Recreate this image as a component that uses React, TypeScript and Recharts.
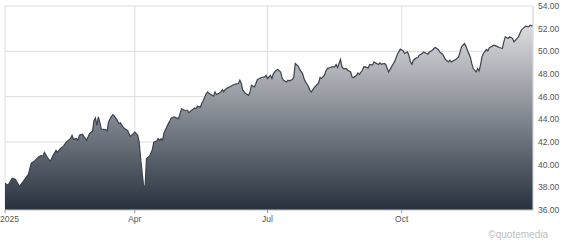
import * as React from 'react'
import { Area, AreaChart, CartesianGrid, ReferenceLine, XAxis, YAxis } from 'recharts'

// day of year 2025 (Jan 1 = 0) for each close
const days = [
  1, 3, 6, 8, 11, 14, 17, 19, 21, 24, 26, 27, 28, 30, 32, 34, 36, 37, 39, 41,
  43, 46, 47, 48, 50, 51, 52, 54, 56, 57, 59, 61, 62, 63, 64, 65, 66, 67, 70, 71,
  72, 74, 75, 76, 78, 79, 80, 82, 83, 85, 86, 87, 89, 90, 91, 92, 93, 94, 96, 97,
  98, 99, 100, 102, 103, 105, 106, 107, 108, 109, 110, 111, 113, 114, 115, 117, 118, 120, 121, 122,
  124, 126, 127, 129, 131, 132, 133, 135, 136, 137, 139, 140, 141, 143, 144, 145, 146, 148, 149, 150,
  151, 152, 154, 155, 157, 158, 159, 161, 162, 163, 164, 166, 168, 169, 170, 172, 173, 174, 176, 177,
  179, 180, 181, 183, 184, 185, 187, 188, 190, 191, 192, 194, 195, 196, 198, 199, 200, 202, 203, 205,
  206, 207, 209, 210, 211, 213, 214, 216, 217, 218, 220, 221, 222, 224, 225, 227, 228, 229, 231, 232,
  233, 235, 236, 238, 239, 240, 242, 243, 244, 246, 247, 248, 250, 251, 253, 254, 255, 257, 258, 259,
  261, 262, 264, 266, 267, 268, 270, 271, 272, 274, 275, 277, 278, 279, 280, 281, 283, 284, 285, 287,
  288, 290, 291, 292, 294, 295, 296, 298, 299, 301, 302, 303, 305, 306, 307, 309, 310, 312, 313, 314,
  316, 317, 318, 320, 321, 322, 324, 325, 326, 327, 328, 329, 331, 332, 333, 335, 336, 338, 339, 340,
  342, 343, 344, 346, 347, 349, 350, 351, 353, 354, 355, 357, 358, 360, 361, 362, 363,
]

const prices = [
  38.37, 38.17, 38.81, 38.72, 38.08, 38.61, 39.14, 40.14, 40.29, 40.67, 40.82, 40.73, 41.08, 40.64, 40.29, 40.82, 41.26, 41.08, 41.44, 41.61,
  41.99, 42.32, 42.59, 42.23, 42.32, 42.15, 42.59, 42.68, 42.32, 42.15, 42.76, 42.94, 43.91, 44.12, 43.47, 44.21, 43.76, 43.14, 43.09, 42.97,
  43.76, 44.27, 44.42, 44.29, 43.91, 43.62, 43.71, 43.32, 43.18, 43.03, 42.74, 42.5, 42.74, 42.88, 42.74, 42.6, 41.99, 40.5, 38.17, 37.99,
  40.53, 40.64, 40.73, 41.32, 41.99, 42.08, 42.3, 42.15, 42.3, 42.15, 42.79, 43.09, 43.62, 43.85, 44.12, 44.21, 44.15, 44.06, 44.51, 44.93,
  44.8, 44.8, 44.59, 44.8, 45.0, 44.95, 45.15, 45.09, 45.44, 45.68, 46.27, 46.42, 46.27, 46.12, 46.04, 46.42, 46.19, 46.33, 46.42, 46.63,
  46.42, 46.63, 46.8, 46.86, 47.01, 47.07, 47.1, 47.16, 47.45, 47.16, 46.57, 46.27, 46.12, 46.42, 47.01, 46.86, 47.16, 47.51, 47.65, 47.69,
  47.74, 47.89, 47.6, 47.89, 47.6, 48.04, 48.33, 48.4, 48.18, 47.65, 47.45, 47.3, 47.45, 47.39, 47.51, 47.74, 48.93, 48.69, 48.4, 48.04,
  47.6, 47.3, 46.92, 46.57, 46.42, 46.8, 46.92, 47.21, 47.69, 47.6, 47.89, 48.27, 48.48, 48.57, 48.63, 48.63, 48.84, 48.57, 49.28, 48.63,
  48.48, 48.48, 48.33, 48.18, 47.74, 47.69, 47.89, 48.1, 47.97, 48.33, 48.64, 48.63, 48.54, 48.84, 48.78, 49.07, 48.98, 48.84, 48.98, 48.86,
  48.93, 48.84, 48.18, 48.63, 48.86, 49.07, 49.72, 49.95, 50.19, 50.04, 49.81, 49.95, 49.6, 49.07, 48.86, 49.22, 49.42, 49.46, 49.66, 49.81,
  49.95, 49.81, 49.75, 49.95, 50.1, 50.25, 50.34, 50.16, 49.95, 49.75, 49.51, 49.28, 49.07, 49.22, 49.07, 49.22, 49.28, 49.51, 49.95, 50.39,
  50.69, 50.46, 50.1, 49.51, 48.93, 48.48, 48.18, 48.48, 48.27, 48.78, 49.51, 49.81, 50.16, 50.04, 50.31, 50.46, 50.54, 50.46, 50.39, 50.34,
  50.25, 50.84, 51.28, 51.14, 51.28, 51.14, 50.84, 50.99, 51.28, 51.58, 51.87, 52.11, 52.22, 52.16, 52.31, 52.25, 52.28,
]

const xTicks = [1, 90, 181, 273]
const xTickLabels = ['2025', 'Apr', 'Jul', 'Oct']
const yTicks = [36, 38, 40, 42, 44, 46, 48, 50, 52, 54]

const data = days.map((day, i) => ({ day, price: prices[i] }))

const font = '"Liberation Sans", Arial, sans-serif'

const DateTick = (props: any) => {
  const { x, y, payload, index } = props
  const first = index === 0
  const label = xTickLabels[xTicks.indexOf(payload.value)]
  return (
    <text
      x={first ? x - 5 : x}
      y={y}
      dy="0.71em"
      textAnchor={first ? 'start' : 'middle'}
      fill="#555"
      fontSize={8.5}
      fontFamily={font}
    >
      {label}
    </text>
  )
}

export default function App() {
  return (
    <div style={{ position: 'absolute', left: 0, top: 0, width: 565, height: 245, background: '#fff' }}>
      <AreaChart width={565} height={245} data={data} margin={{ top: 6, right: 0, bottom: 0, left: 5 }}>
        <defs>
          <linearGradient id="fillGrad" x1="0" y1="0" x2="0" y2="1">
            <stop offset="0%" stopColor="#dcdde0" />
            <stop offset="100%" stopColor="#27313e" />
          </linearGradient>
        </defs>
        <CartesianGrid stroke="#dddddd" vertical horizontal />
        <ReferenceLine x={363} stroke="#dddddd" />
        <XAxis
          dataKey="day"
          type="number"
          domain={[1, 363]}
          ticks={xTicks}
          tick={<DateTick />}
          height={35}
          tickSize={3}
          tickMargin={3}
          axisLine={{ stroke: '#cccccc' }}
          tickLine={{ stroke: '#999999' }}
          allowDataOverflow
        />
        <YAxis
          orientation="right"
          domain={[36, 54]}
          ticks={yTicks}
          width={32}
          axisLine={false}
          tickLine={false}
          tickSize={3}
          tickMargin={2}
          tickFormatter={(v: number) => v.toFixed(2)}
          tick={{ fill: '#555', fontSize: 8.5, fontFamily: font }}
          allowDataOverflow
        />
        <Area
          type="linear"
          dataKey="price"
          stroke="#3b434e"
          strokeWidth={1.2}
          fill="url(#fillGrad)"
          fillOpacity={1}
          baseValue={36}
          dot={false}
          activeDot={false}
          isAnimationActive={false}
        />
      </AreaChart>
      <div
        style={{
          position: 'absolute',
          right: 17,
          top: 229,
          fontFamily: font,
          fontSize: 10,
          lineHeight: '12px',
          color: '#bdbdbd',
        }}
      >
        ©quotemedia
      </div>
    </div>
  )
}
